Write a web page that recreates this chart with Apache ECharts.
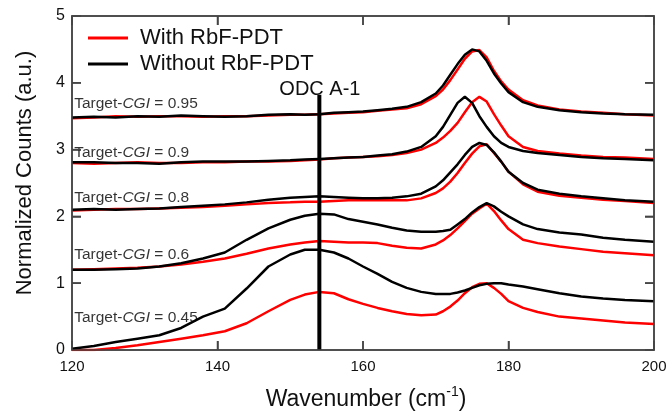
<!DOCTYPE html>
<html><head><meta charset="utf-8">
<script src="https://cdn.jsdelivr.net/npm/echarts@6/dist/echarts.min.js"></script>
<style>html,body{margin:0;padding:0;background:#fff}#c{width:668px;height:417px}</style>
</head><body><div id="c"></div>
<script>
const xs = [120,123,126,129,132,135,138,141,144,147,150,152,154,156,158,160,162,164,166,168,170,171,172,173,174,175,176,177,178,179,180,182,184,187,190,193,196,200];
const r045 = [0.0,0.0,0.03,0.07,0.12,0.17,0.22,0.28,0.4,0.58,0.75,0.83,0.87,0.85,0.76,0.69,0.63,0.58,0.54,0.52,0.53,0.58,0.65,0.74,0.85,0.94,0.99,1.0,0.93,0.84,0.73,0.63,0.57,0.5,0.47,0.44,0.41,0.39];
const b045 = [0.02,0.06,0.12,0.17,0.22,0.33,0.5,0.62,0.92,1.25,1.43,1.5,1.5,1.46,1.37,1.25,1.14,1.02,0.93,0.87,0.84,0.84,0.84,0.86,0.89,0.93,0.97,0.99,1.0,1.0,0.98,0.95,0.91,0.85,0.8,0.77,0.75,0.73];
const r06 = [1.2,1.21,1.22,1.23,1.25,1.28,1.32,1.37,1.44,1.52,1.58,1.61,1.63,1.62,1.61,1.61,1.6,1.56,1.53,1.52,1.58,1.64,1.72,1.82,1.93,2.04,2.12,2.19,2.08,1.94,1.81,1.65,1.6,1.55,1.51,1.47,1.45,1.42];
const b06 = [1.2,1.2,1.21,1.22,1.25,1.3,1.37,1.46,1.65,1.82,1.95,2.01,2.04,2.03,1.96,1.92,1.88,1.83,1.79,1.77,1.77,1.78,1.8,1.88,1.96,2.06,2.14,2.2,2.15,2.07,2.0,1.88,1.81,1.76,1.73,1.68,1.65,1.62];
const r08 = [2.09,2.1,2.11,2.11,2.12,2.13,2.14,2.16,2.18,2.2,2.21,2.22,2.22,2.23,2.24,2.24,2.24,2.24,2.24,2.27,2.35,2.42,2.52,2.65,2.8,2.94,3.05,3.08,2.95,2.82,2.67,2.48,2.37,2.31,2.28,2.25,2.23,2.2];
const b08 = [2.1,2.11,2.1,2.11,2.12,2.14,2.16,2.18,2.21,2.25,2.28,2.29,2.3,2.29,2.28,2.27,2.27,2.28,2.3,2.34,2.45,2.54,2.66,2.78,2.92,3.04,3.1,3.07,2.96,2.82,2.67,2.5,2.4,2.34,2.3,2.27,2.24,2.22];
const r09 = [2.8,2.79,2.8,2.81,2.8,2.8,2.81,2.81,2.82,2.82,2.83,2.84,2.85,2.87,2.88,2.89,2.9,2.92,2.95,3.0,3.1,3.18,3.28,3.4,3.56,3.71,3.79,3.72,3.53,3.36,3.2,3.04,2.98,2.94,2.91,2.89,2.88,2.86];
const b09 = [2.81,2.81,2.8,2.8,2.79,2.81,2.82,2.82,2.82,2.83,2.84,2.85,2.86,2.87,2.88,2.89,2.91,2.93,2.97,3.04,3.2,3.34,3.52,3.7,3.79,3.7,3.5,3.34,3.2,3.1,3.04,2.98,2.95,2.92,2.89,2.87,2.86,2.84];
const r095 = [3.47,3.48,3.5,3.49,3.5,3.5,3.49,3.5,3.5,3.51,3.52,3.52,3.53,3.54,3.55,3.56,3.58,3.6,3.62,3.68,3.8,3.9,4.04,4.2,4.36,4.47,4.49,4.38,4.18,4.02,3.9,3.74,3.66,3.6,3.57,3.55,3.53,3.51];
const b095 = [3.48,3.49,3.48,3.5,3.49,3.51,3.5,3.49,3.5,3.52,3.53,3.52,3.53,3.55,3.56,3.57,3.59,3.61,3.64,3.71,3.84,3.96,4.12,4.28,4.42,4.5,4.47,4.33,4.14,3.99,3.86,3.71,3.64,3.59,3.56,3.54,3.53,3.52];
const cgiLabels = ['0.95','0.9','0.8','0.6','0.45'];
const cgiLabelY = [3.68,2.96,2.28,1.42,0.48];
const odcX = 154, odcTop = 3.82, odcLabel = 'ODC A-1';
const xTicks = [120,140,160,180,200];
const yTicks = [0,1,2,3,4,5];

const FONT = 'Liberation Sans, Arial, sans-serif';
const RED = '#ff0000', BLK = '#000000', AX = '#444';
const pair = arr => xs.map((x,i)=>[x,arr[i]]);
const mkLine = (name, color, arr) => ({
  name, type:'line', data: pair(arr), showSymbol:false, symbol:'none',
  lineStyle:{color, width:2.5}, itemStyle:{color}, animation:false, z: color===BLK?3:2
});
const series = [];
[r045,r06,r08,r09,r095].forEach(a=>series.push(mkLine('With RbF-PDT', RED, a)));
[b045,b06,b08,b09,b095].forEach(a=>series.push(mkLine('Without RbF-PDT', BLK, a)));
series.push({
  type:'line', data:[[odcX,0],[odcX,odcTop]], showSymbol:false, symbol:'none',
  lineStyle:{color:'#000', width:4}, animation:false, silent:true, z:4,
  endLabel:{show:true, formatter:odcLabel, fontSize:20, color:'#111', fontFamily:FONT, offset:[-48,-5]}
});
series.push({
  type:'scatter', symbolSize:0, animation:false, silent:true, z:5,
  data: cgiLabels.map((l,i)=>({value:[120.3, cgiLabelY[i]]})),
  label:{show:true, position:'right', distance:0,
    formatter: p => '{a|Target-}{b|CGI}{a| = ' + cgiLabels[p.dataIndex] + '}',
    rich:{a:{fontSize:15.5, color:'#000', fontFamily:FONT}, b:{fontSize:15.5, color:'#000', fontStyle:'italic', fontFamily:FONT}}}
});

const axisCommon = () => ({
  axisLine:{show:true, onZero:false, lineStyle:{color:AX, width:1.5}},
  axisTick:{show:true, inside:true, length:9, lineStyle:{color:AX, width:1.5}},
  splitLine:{show:false}
});
const titleGraphics = [{
  type:'text', x:25, y:173, rotation:Math.PI/2, silent:true,
  style:{text:'Normalized Counts (a.u.)', font:'22px Liberation Sans, Arial, sans-serif', fill:'#111', align:'center', verticalAlign:'middle'}
},{
  type:'text', x:366, y:400, silent:true,
  style:{text:'{n|Wavenumber (cm}{s|-1}{n|)}', align:'center', verticalAlign:'middle',
    rich:{n:{fontSize:23, lineHeight:30, fill:'#111', fontFamily:FONT}, s:{fontSize:14, fill:'#111', fontFamily:FONT, verticalAlign:'top'}}}
}];
const chart = echarts.init(document.getElementById('c'));
chart.setOption({
  backgroundColor:'#fff',
  animation:false,
  grid:{left:72, right:14, top:16, bottom:67, containLabel:false, outerBoundsMode:'none'},
  legend:{
    data:['With RbF-PDT','Without RbF-PDT'], orient:'vertical', left:83, top:22,
    itemWidth:40, itemHeight:3, itemGap:4, icon:'rect',
    textStyle:{fontSize:22, color:'#111', fontFamily:FONT, padding:[0,0,0,7]}
  },
  graphic: titleGraphics,
  xAxis:[
    Object.assign({type:'value', min:120, max:200, interval:20, position:'bottom',
      axisLabel:{fontSize:15, color:'#111', fontFamily:FONT, margin:9}}, axisCommon()),
    Object.assign({type:'value', min:120, max:200, interval:20, position:'top', axisLabel:{show:false}}, axisCommon())
  ],
  yAxis:[
    Object.assign({type:'value', min:0, max:5, interval:1, position:'left',
      axisLabel:{fontSize:16, color:'#111', fontFamily:FONT, margin:7}}, axisCommon()),
    Object.assign({type:'value', min:0, max:5, interval:1, position:'right', axisLabel:{show:false}}, axisCommon())
  ],
  series
});

// Frame and inward ticks positioned through the axes' own scales
const px = v => chart.convertToPixel({xAxisIndex:0}, v);
const py = v => chart.convertToPixel({yAxisIndex:0}, v);
const L = px(xTicks[0]), R = px(xTicks[xTicks.length-1]);
const B = py(yTicks[0]), T = py(yTicks[yTicks.length-1]);
const TL = 9;
const frame = [{
  type:'rect', z:20, silent:true,
  shape:{x:L, y:T, width:R-L, height:B-T},
  style:{fill:null, stroke:AX, lineWidth:1.5}
}];
xTicks.slice(1,-1).forEach(v=>{
  const x = px(v);
  frame.push({type:'line', z:20, silent:true, shape:{x1:x, y1:B, x2:x, y2:B-TL}, style:{stroke:AX, lineWidth:1.5}});
  frame.push({type:'line', z:20, silent:true, shape:{x1:x, y1:T, x2:x, y2:T+TL}, style:{stroke:AX, lineWidth:1.5}});
});
yTicks.slice(1,-1).forEach(v=>{
  const y = py(v);
  frame.push({type:'line', z:20, silent:true, shape:{x1:L, y1:y, x2:L+TL, y2:y}, style:{stroke:AX, lineWidth:1.5}});
  frame.push({type:'line', z:20, silent:true, shape:{x1:R, y1:y, x2:R-TL, y2:y}, style:{stroke:AX, lineWidth:1.5}});
});
chart.setOption({graphic: titleGraphics.concat(frame)}, {replaceMerge:['graphic']});
</script></body></html>
